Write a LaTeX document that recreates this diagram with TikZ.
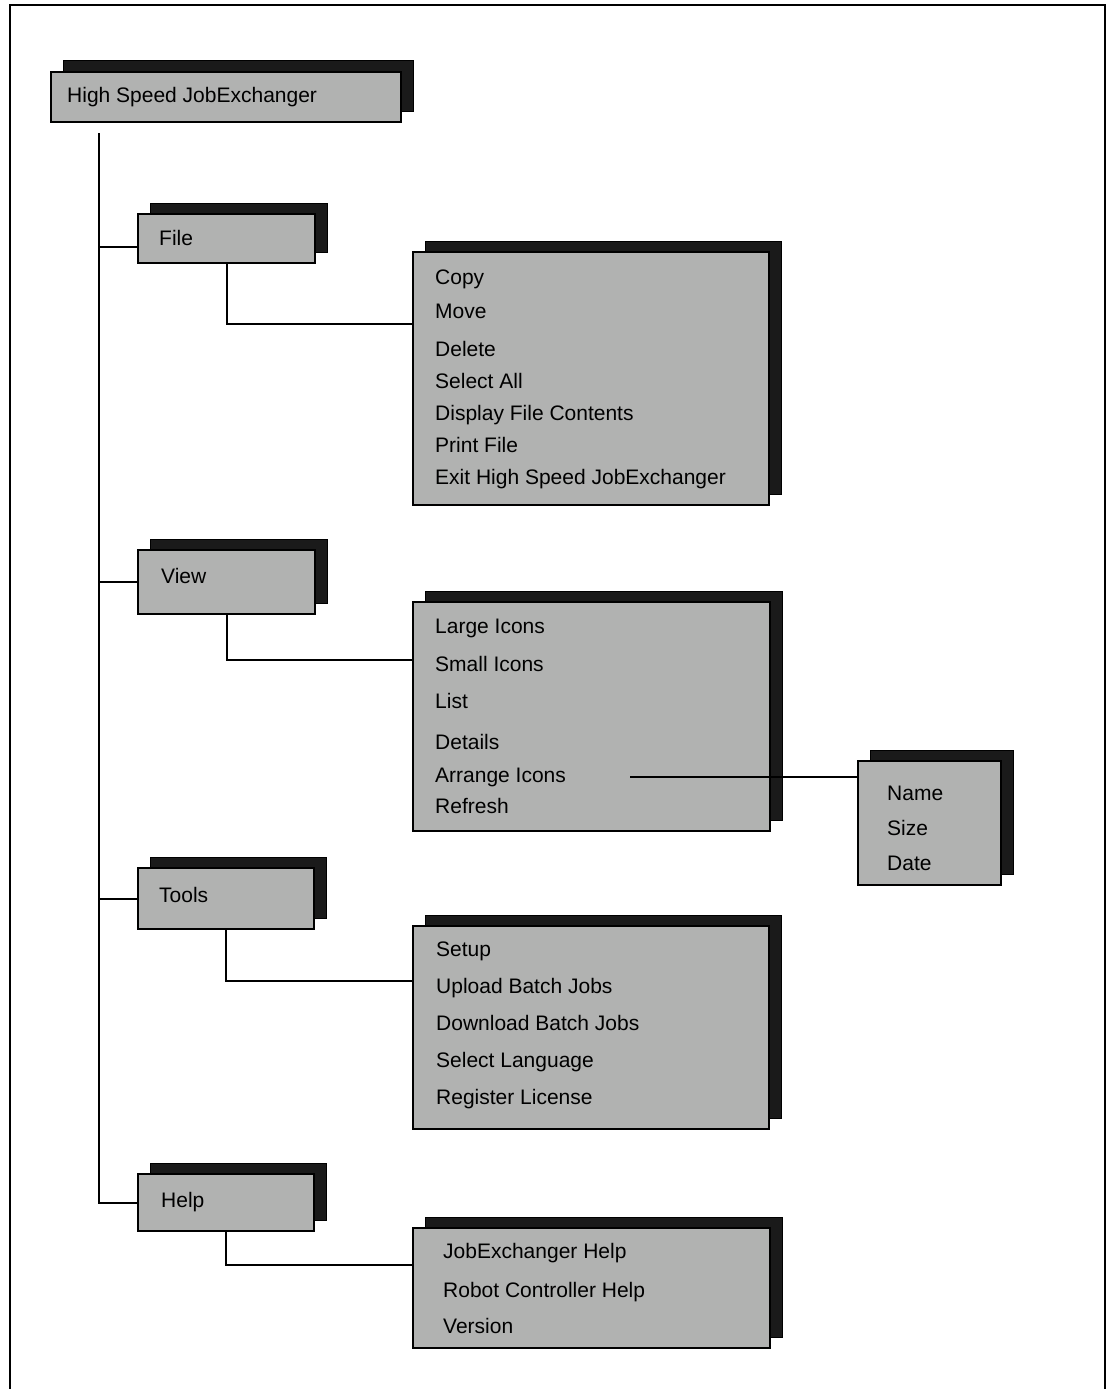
\documentclass[tikz,border=0pt]{standalone}
\usepackage{fontspec}
\setmainfont{Liberation Sans}
\usepackage{tikz}
\usetikzlibrary{shadows,calc}
\usepackage{xcolor}
\definecolor{menugray}{HTML}{B1B2B1}
\definecolor{shadowblack}{HTML}{1A1A1A}

\begin{document}
\begin{tikzpicture}[
  x=1pt, y=-1pt,
  font=\fontsize{21}{25}\selectfont,
  menubox/.style={draw=black, line width=2pt, fill=menugray, anchor=north west, inner sep=0pt,
    general shadow={fill=shadowblack, draw=black, line width=1pt, shadow xshift=12pt, shadow yshift=11pt}},
  item/.style={anchor=base west, inner sep=0pt},
  link/.style={line width=2pt, draw=black},
  frame/.style={line width=1.5pt, draw=black}
]
\useasboundingbox (0,0) rectangle (1113,1389);
\draw[frame] (10,1389) |- (1105,5) -- (1105,1389);

% top level
\node[menubox, minimum width=350pt, minimum height=50pt] (root) at (50,71) {};
\node[item] (rootlbl) at (67,102) {High Speed JobExchanger};

% menus
\node[menubox, minimum width=177pt, minimum height=49pt] (file) at (137,213) {};
\node[item] (filelbl) at (159,245) {File};
\node[menubox, minimum width=177pt, minimum height=64pt] (view) at (137,549) {};
\node[item] (viewlbl) at (161,583) {View};
\node[menubox, minimum width=176pt, minimum height=61pt] (tools) at (137,867) {};
\node[item] (toolslbl) at (159,902) {Tools};
\node[menubox, minimum width=176pt, minimum height=57pt] (help) at (137,1173) {};
\node[item] (helplbl) at (161,1207) {Help};

% File submenu
\node[menubox, minimum width=356pt, minimum height=253pt] (filemenu) at (412,251) {};
\node[item] (copy) at (435,284) {Copy};
\node[item] (move) at (435,318) {Move};
\node[item] (delete) at (435,356) {Delete};
\node[item] (selall) at (435,388) {Select All};
\node[item] (display) at (435,420) {Display File Contents};
\node[item] (print) at (435,452) {Print File};
\node[item] (exit) at (435,484) {Exit High Speed JobExchanger};

% View submenu
\node[menubox, minimum width=357pt, minimum height=229pt] (viewmenu) at (412,601) {};
\node[item] (large) at (435,633) {Large Icons};
\node[item] (small) at (435,671) {Small Icons};
\node[item] (list) at (435,708) {List};
\node[item] (details) at (435,749) {Details};
\node[item] (arrange) at (435,782) {Arrange Icons};
\node[item] (refresh) at (435,813) {Refresh};

% Arrange Icons submenu
\node[menubox, minimum width=143pt, minimum height=124pt] (sortmenu) at (857,760) {};
\node[item] (name) at (887,800) {Name};
\node[item] (size) at (887,835) {Size};
\node[item] (date) at (887,870) {Date};

% Tools submenu
\node[menubox, minimum width=356pt, minimum height=203pt] (toolsmenu) at (412,925) {};
\node[item] (setup) at (436,956) {Setup};
\node[item] (upload) at (436,993) {Upload Batch Jobs};
\node[item] (download) at (436,1030) {Download Batch Jobs};
\node[item] (lang) at (436,1067) {Select Language};
\node[item] (license) at (436,1104) {Register License};

% Help submenu
\node[menubox, minimum width=357pt, minimum height=120pt] (helpmenu) at (412,1227) {};
\node[item] (jxhelp) at (443,1258) {JobExchanger Help};
\node[item] (rchelp) at (443,1297) {Robot Controller Help};
\node[item] (version) at (443,1333) {Version};

% connectors
\coordinate (trunk) at (99,133);
\coordinate (filein) at ([yshift=-8.5pt]file.west);
\draw[link] (trunk) |- (help.west);
\draw[link] (trunk |- filein) -- (filein);
\draw[link] (trunk |- view.west) -- (view.west);
\draw[link] (trunk |- tools.west) -- (tools.west);
\draw[link] (file.south) |- ([yshift=-73pt]filemenu.north west);
\draw[link] (view.south) |- ([yshift=-59pt]viewmenu.north west);
\draw[link] (tools.south) |- ([yshift=-56pt]toolsmenu.north west);
\draw[link] (help.south) |- ([yshift=-38pt]helpmenu.north west);
\draw[link] ([xshift=64pt]arrange.east) -- (arrange.east -| sortmenu.west);
\end{tikzpicture}
\end{document}
